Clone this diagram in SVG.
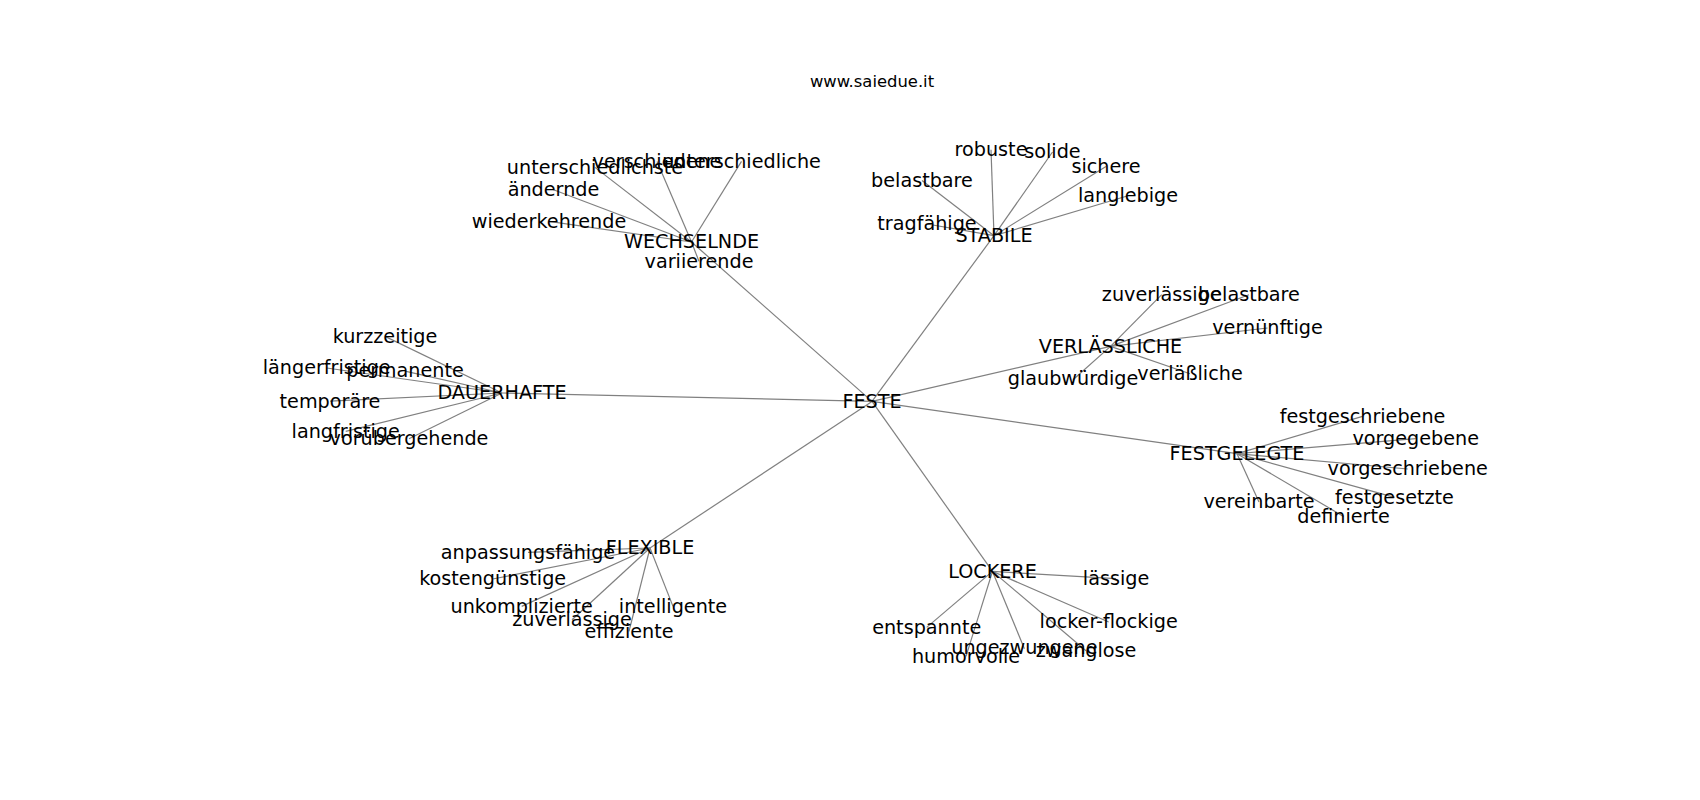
<svg xmlns="http://www.w3.org/2000/svg" width="1700" height="800" viewBox="0 0 1700 800">
<style>
.e{stroke:#808080;stroke-width:1.2;fill:none}
.t{font-family:"DejaVu Sans",sans-serif;font-size:19.2px;fill:#000;text-anchor:middle}
.title{font-family:"DejaVu Sans",sans-serif;font-size:16.4px;fill:#000;text-anchor:middle}
</style>
<rect width="1700" height="800" fill="#fff"/>
<text class="title" x="872" y="87.3">www.saiedue.it</text>
<g id="edges">
<line class="e" x1="872" y1="401.4" x2="691.5" y2="242"/>
<line class="e" x1="872" y1="401.4" x2="994" y2="235.7"/>
<line class="e" x1="872" y1="401.4" x2="1110.5" y2="346.4"/>
<line class="e" x1="872" y1="401.4" x2="1237" y2="453.7"/>
<line class="e" x1="872" y1="401.4" x2="992.5" y2="571.4"/>
<line class="e" x1="872" y1="401.4" x2="650" y2="548"/>
<line class="e" x1="872" y1="401.4" x2="502" y2="393"/>
<line class="e" x1="691.5" y1="242" x2="595" y2="167.4"/>
<line class="e" x1="691.5" y1="242" x2="657" y2="161.4"/>
<line class="e" x1="691.5" y1="242" x2="741.5" y2="161.4"/>
<line class="e" x1="691.5" y1="242" x2="553.5" y2="189.7"/>
<line class="e" x1="691.5" y1="242" x2="549" y2="221.4"/>
<line class="e" x1="691.5" y1="242" x2="699" y2="261.4"/>
<line class="e" x1="994" y1="235.7" x2="991" y2="149.7"/>
<line class="e" x1="994" y1="235.7" x2="1052.5" y2="152"/>
<line class="e" x1="994" y1="235.7" x2="1106" y2="166.4"/>
<line class="e" x1="994" y1="235.7" x2="922" y2="180.4"/>
<line class="e" x1="994" y1="235.7" x2="1128" y2="195.7"/>
<line class="e" x1="994" y1="235.7" x2="927" y2="224"/>
<line class="e" x1="1110.5" y1="346.4" x2="1161.7" y2="294.7"/>
<line class="e" x1="1110.5" y1="346.4" x2="1249" y2="294.7"/>
<line class="e" x1="1110.5" y1="346.4" x2="1267.5" y2="328"/>
<line class="e" x1="1110.5" y1="346.4" x2="1073" y2="379.7"/>
<line class="e" x1="1110.5" y1="346.4" x2="1190" y2="373.7"/>
<line class="e" x1="1237" y1="453.7" x2="1362.5" y2="416.4"/>
<line class="e" x1="1237" y1="453.7" x2="1415.7" y2="438.7"/>
<line class="e" x1="1237" y1="453.7" x2="1407.7" y2="469"/>
<line class="e" x1="1237" y1="453.7" x2="1394.5" y2="497.4"/>
<line class="e" x1="1237" y1="453.7" x2="1259" y2="502"/>
<line class="e" x1="1237" y1="453.7" x2="1343.5" y2="516.4"/>
<line class="e" x1="502" y1="393" x2="385" y2="336.4"/>
<line class="e" x1="502" y1="393" x2="326.7" y2="368"/>
<line class="e" x1="502" y1="393" x2="405" y2="371.2"/>
<line class="e" x1="502" y1="393" x2="330" y2="401.2"/>
<line class="e" x1="502" y1="393" x2="345.7" y2="431.4"/>
<line class="e" x1="502" y1="393" x2="409" y2="438.7"/>
<line class="e" x1="650" y1="548" x2="528" y2="552.4"/>
<line class="e" x1="650" y1="548" x2="492.7" y2="579"/>
<line class="e" x1="650" y1="548" x2="521.7" y2="606.4"/>
<line class="e" x1="650" y1="548" x2="673" y2="606.4"/>
<line class="e" x1="650" y1="548" x2="572" y2="619.7"/>
<line class="e" x1="650" y1="548" x2="629" y2="631.4"/>
<line class="e" x1="992.5" y1="571.4" x2="1116" y2="578.7"/>
<line class="e" x1="992.5" y1="571.4" x2="1108.7" y2="622"/>
<line class="e" x1="992.5" y1="571.4" x2="926.7" y2="627.4"/>
<line class="e" x1="992.5" y1="571.4" x2="1024.4" y2="648.7"/>
<line class="e" x1="992.5" y1="571.4" x2="1086" y2="650.7"/>
<line class="e" x1="992.5" y1="571.4" x2="966" y2="656.4"/>
</g>
<g id="nodes" transform="translate(0,1)">
<g id="n-feste"><text class="t" x="872" y="406.7">FESTE</text></g>
<g id="n-wechselnde"><text class="t" x="691.5" y="247.3">WECHSELNDE</text></g>
<g id="n-stabile"><text class="t" x="994" y="241">STABILE</text></g>
<g id="n-verlaessliche"><text class="t" x="1110.5" y="351.7">VERLÄSSLICHE</text></g>
<g id="n-festgelegte"><text class="t" x="1237" y="459">FESTGELEGTE</text></g>
<g id="n-lockere"><text class="t" x="992.5" y="576.7">LOCKERE</text></g>
<g id="n-flexible"><text class="t" x="650" y="553.3">FLEXIBLE</text></g>
<g id="n-dauerhafte"><text class="t" x="502" y="398.3">DAUERHAFTE</text></g>
<g id="n-unterschiedlichste"><text class="t" x="595" y="172.7">unterschiedlichste</text></g>
<g id="n-verschiedene"><text class="t" x="657" y="166.7">verschiedene</text></g>
<g id="n-unterschiedliche"><text class="t" x="741.5" y="166.7">unterschiedliche</text></g>
<g id="n-aendernde"><text class="t" x="553.5" y="195">ändernde</text></g>
<g id="n-wiederkehrende"><text class="t" x="549" y="226.7">wiederkehrende</text></g>
<g id="n-variierende"><text class="t" x="699" y="266.7">variierende</text></g>
<g id="n-robuste"><text class="t" x="991" y="155">robuste</text></g>
<g id="n-solide"><text class="t" x="1052.5" y="157.3">solide</text></g>
<g id="n-sichere"><text class="t" x="1106" y="171.7">sichere</text></g>
<g id="n-belastbare1"><text class="t" x="922" y="185.7">belastbare</text></g>
<g id="n-langlebige"><text class="t" x="1128" y="201">langlebige</text></g>
<g id="n-tragfaehige"><text class="t" x="927" y="229.3">tragfähige</text></g>
<g id="n-zuverlaessige1"><text class="t" x="1161.7" y="300">zuverlässige</text></g>
<g id="n-belastbare2"><text class="t" x="1249" y="300">belastbare</text></g>
<g id="n-vernuenftige"><text class="t" x="1267.5" y="333.3">vernünftige</text></g>
<g id="n-glaubwuerdige"><text class="t" x="1073" y="384">glaubwürdige</text></g>
<g id="n-verlaessliche2"><text class="t" x="1190" y="379">verläßliche</text></g>
<g id="n-festgeschriebene"><text class="t" x="1362.5" y="421.7">festgeschriebene</text></g>
<g id="n-vorgegebene"><text class="t" x="1415.7" y="444">vorgegebene</text></g>
<g id="n-vorgeschriebene"><text class="t" x="1407.7" y="474.3">vorgeschriebene</text></g>
<g id="n-festgesetzte"><text class="t" x="1394.5" y="502.7">festgesetzte</text></g>
<g id="n-vereinbarte"><text class="t" x="1259" y="507.3">vereinbarte</text></g>
<g id="n-definierte"><text class="t" x="1343.5" y="521.7">definierte</text></g>
<g id="n-kurzzeitige"><text class="t" x="385" y="341.7">kurzzeitige</text></g>
<g id="n-laengerfristige"><text class="t" x="326.7" y="373.3">längerfristige</text></g>
<g id="n-permanente"><text class="t" x="405" y="375.5">permanente</text></g>
<g id="n-temporaere"><text class="t" x="330" y="406.5">temporäre</text></g>
<g id="n-langfristige"><text class="t" x="345.7" y="436.7">langfristige</text></g>
<g id="n-voruebergehende"><text class="t" x="409" y="444">vorübergehende</text></g>
<g id="n-anpassungsfaehige"><text class="t" x="528" y="557.7">anpassungsfähige</text></g>
<g id="n-kostenguenstige"><text class="t" x="492.7" y="584.3">kostengünstige</text></g>
<g id="n-unkomplizierte"><text class="t" x="521.7" y="611.7">unkomplizierte</text></g>
<g id="n-intelligente"><text class="t" x="673" y="611.7">intelligente</text></g>
<g id="n-zuverlaessige2"><text class="t" x="572" y="625">zuverlässige</text></g>
<g id="n-effiziente"><text class="t" x="629" y="636.7">effiziente</text></g>
<g id="n-laessige"><text class="t" x="1116" y="584">lässige</text></g>
<g id="n-locker-flockige"><text class="t" x="1108.7" y="627.3">locker-flockige</text></g>
<g id="n-entspannte"><text class="t" x="926.7" y="632.7">entspannte</text></g>
<g id="n-ungezwungene"><text class="t" x="1024.4" y="653">ungezwungene</text></g>
<g id="n-zwanglose"><text class="t" x="1086" y="656">zwanglose</text></g>
<g id="n-humorvolle"><text class="t" x="966" y="661.7">humorvolle</text></g>
</g>
</svg>
